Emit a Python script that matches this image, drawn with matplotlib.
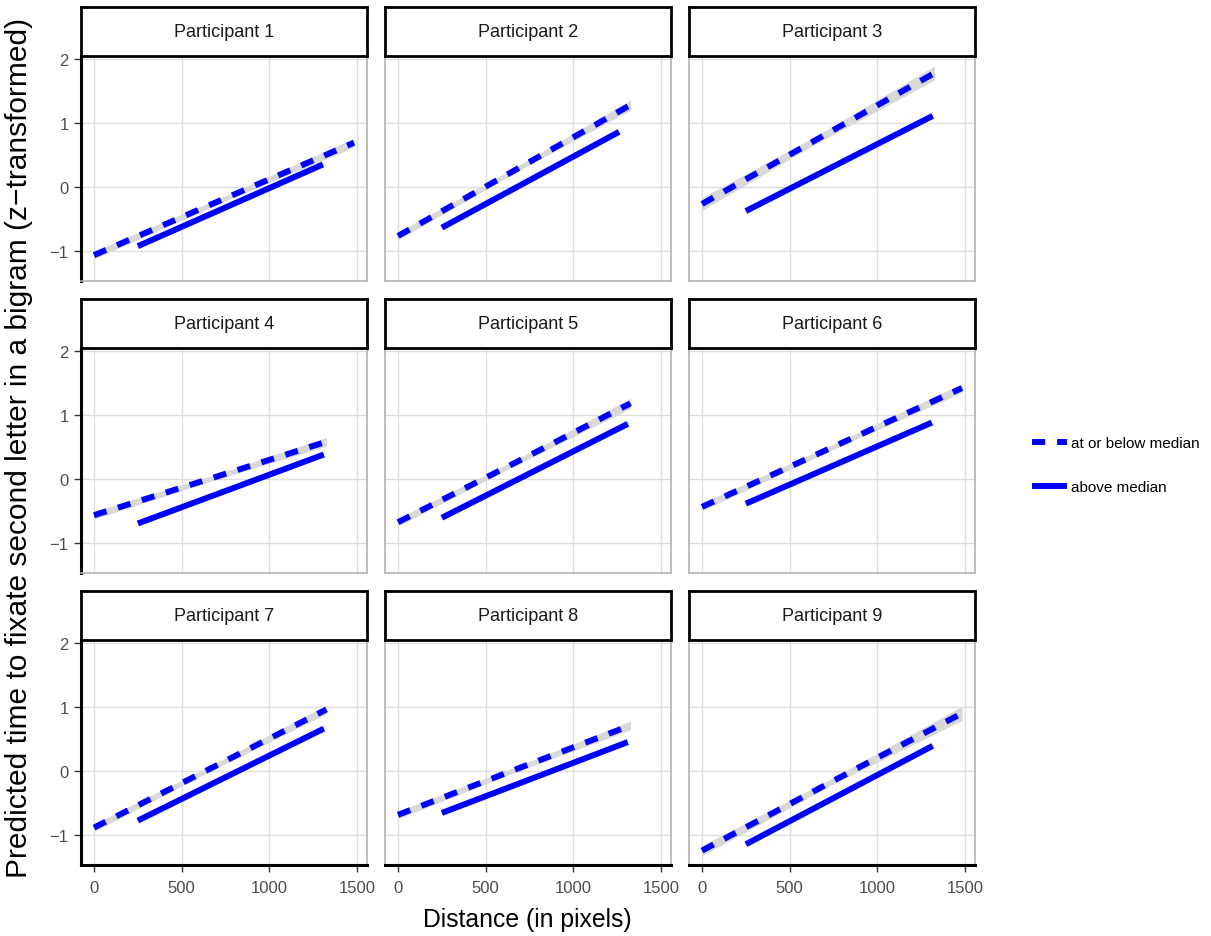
import numpy as np
import matplotlib.pyplot as plt
from matplotlib.lines import Line2D

plt.rcParams['font.family'] = ['Liberation Sans', 'DejaVu Sans']

# one facet per participant
participants = ['Participant %d' % i for i in range(1, 10)]

# dashed fit (at or below median): start / middle / end
dash_x = [[0, 740, 1482], [0, 660, 1325], [0, 660, 1325],
          [0, 660, 1325], [0, 660, 1325], [0, 740, 1482],
          [0, 660, 1325], [0, 660, 1325], [0, 740, 1482]]
dash_y = [[-1.07, -0.19, 0.69], [-0.77, 0.25, 1.28], [-0.27, 0.75, 1.78],
          [-0.57, 0.00, 0.58], [-0.68, 0.24, 1.18], [-0.44, 0.49, 1.42],
          [-0.89, 0.03, 0.96], [-0.69, 0.01, 0.71], [-1.25, -0.17, 0.90]]
# half width of the grey confidence band around the dashed fit
band_hw = [[0.06, 0.04, 0.07], [0.06, 0.04, 0.08], [0.10, 0.06, 0.11],
           [0.06, 0.04, 0.07], [0.06, 0.04, 0.08], [0.06, 0.04, 0.07],
           [0.06, 0.04, 0.07], [0.06, 0.04, 0.07], [0.08, 0.05, 0.11]]

# solid fit (above median): start / end
solid_x = [[250, 1305], [250, 1260], [250, 1315],
           [250, 1310], [250, 1310], [250, 1310],
           [250, 1310], [250, 1310], [250, 1315]]
solid_y = [[-0.93, 0.35], [-0.64, 0.86], [-0.38, 1.11],
           [-0.70, 0.38], [-0.61, 0.86], [-0.39, 0.88],
           [-0.78, 0.66], [-0.66, 0.45], [-1.15, 0.39]]

x_ticks = [0, 500, 1000, 1500]
y_ticks = [-1, 0, 1, 2]
legend_labels = ['at or below median', 'above median']

W, H = 1211, 937
fig = plt.figure(figsize=(W / 100, H / 100), dpi=100)


def px_box(x, y, w, h):
    return [x / W, 1 - (y + h) / H, w / W, h / H]


col_x = [81, 385, 689]
row_top = [8, 300, 592]
pw, strip_h, ph = 286, 49, 225
lw = 4.3
dash_style = (2.2, 2.0)

for i, name in enumerate(participants):
    r, c = divmod(i, 3)
    ax = fig.add_axes(px_box(col_x[c], row_top[r] + strip_h, pw, ph))
    y = np.array(dash_y[i])
    hw = np.array(band_hw[i])
    ax.fill_between(dash_x[i], y - hw, y + hw, color='#d9d9d9', lw=0)
    ax.plot(dash_x[i], y, color='blue', lw=lw, dashes=dash_style)
    ax.plot(solid_x[i], solid_y[i], color='blue', lw=lw, solid_capstyle='butt')

    ax.set_xlim(-74, 1556)
    ax.set_ylim(-1.475, 2.047)
    ax.set_xticks(x_ticks)
    ax.set_yticks(y_ticks)
    ax.grid(color='#dedede', lw=1.0)
    ax.set_axisbelow(True)
    for s in ax.spines.values():
        s.set_color('#b3b3b3')
        s.set_linewidth(1.2)
    if c == 0:
        ax.spines['left'].set_color('black')
        ax.spines['left'].set_linewidth(2.2)
    if r == 2:
        ax.spines['bottom'].set_color('black')
        ax.spines['bottom'].set_linewidth(2.2)
    ax.tick_params(length=5, width=1, color='#333333', labelsize=12,
                   labelcolor='#4d4d4d', pad=4)
    ax.tick_params(axis='x', labelbottom=(r == 2), bottom=(r == 2), pad=6)
    ax.tick_params(axis='y', labelleft=(c == 0), left=(c == 0))

    # facet strip
    sax = fig.add_axes(px_box(col_x[c], row_top[r], pw, strip_h))
    sax.set_xticks([])
    sax.set_yticks([])
    for s in sax.spines.values():
        s.set_color('black')
        s.set_linewidth(2.0)
    sax.text(0.5, 0.5, name, ha='center', va='center', fontsize=13,
             color='#1a1a1a', transform=sax.transAxes)

fig.text(527 / W, 1 - 920 / H, 'Distance (in pixels)', ha='center',
         va='center', fontsize=17.8)
fig.text(19 / W, 1 - 448 / H,
         'Predicted time to fixate second letter in a bigram (z\u2212transformed)',
         ha='center', va='center', rotation=90, fontsize=21.5)

handles = [Line2D([], [], color='blue', lw=lw, dashes=dash_style),
           Line2D([], [], color='blue', lw=lw, solid_capstyle='butt')]
fig.legend(handles, legend_labels, loc='center left',
           bbox_to_anchor=(1032 / W, 1 - 466 / H), frameon=False,
           fontsize=11, handlelength=2.29, handletextpad=0.25,
           labelspacing=1.95, borderpad=0, borderaxespad=0)

plt.savefig('out.png', dpi=100)
